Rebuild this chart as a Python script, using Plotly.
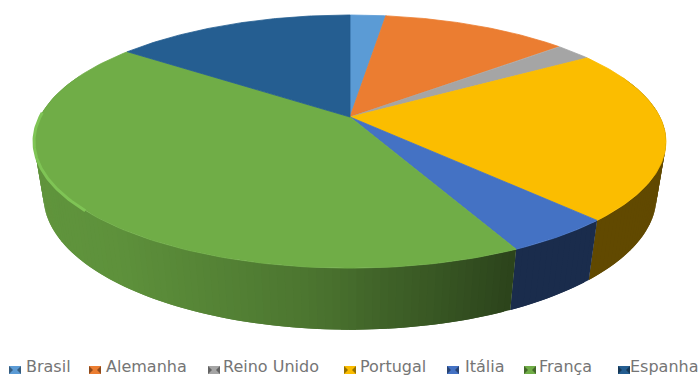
import numpy as np
import plotly.graph_objects as go

# Share of each country, in percent, clockwise from twelve o'clock
countries = ["Brasil", "Alemanha", "Reino Unido", "Portugal", "Itália", "França", "Espanha"]
shares = [2.2, 11.5, 2.3, 22.0, 4.7, 42.5, 14.8]
colors = ["#5B9BD5", "#EB7D31", "#A5A5A5", "#FBBD00", "#4472C4", "#70AD47", "#255E91"]

# Perspective model of the tilted disc, in pixels
CX, CY = 350.0, 117.0
RX, RY = 310.0, 121.8
TILT = 0.194
DEPTH = 56.0
FALLOFF = 0.03

# Horizontal position of each legend swatch and label
swatch_x = [9, 89, 208, 344, 447, 524, 618]
label_x = [27, 107, 224, 361, 466, 540, 631]
SWATCH_Y = 370
LABEL_Y = 366.5


def project(theta, lower=False):
    """Map a rim angle (radians, clockwise from the back) to screen x, y."""
    u, v = np.sin(theta), np.cos(theta)
    w = 1 + TILT * v + (FALLOFF if lower else 0)
    drop = DEPTH if lower else 0
    return CX + RX * u / w, CY - (RY * v - drop) / w


def wall_shade(x):
    """Brightness of the side wall, falling from left to right."""
    return np.interp(x, [35, 110, 300, 440, 515, 700], [0.86, 0.84, 0.68, 0.5, 0.39, 0.39])


def scaled(hex_color, factor):
    rgb = [int(hex_color[i:i + 2], 16) for i in (1, 3, 5)]
    return "rgb({},{},{})".format(*[min(255, int(c * factor)) for c in rgb])


def polygon(xs, ys, color, name, width=0.8):
    return go.Scatter(
        x=xs, y=ys, mode="lines", fill="toself", fillcolor=color, name=name,
        line=dict(color=color, width=width), hoverinfo="skip", showlegend=False,
    )


edges = np.concatenate([[0], np.cumsum(shares)]) / sum(shares) * 2 * np.pi
fig = go.Figure()

# Side wall: each shaded strip runs under its neighbour so no seams show
for name, color, start, stop in zip(countries, colors, edges[:-1], edges[1:]):
    steps = max(2, int((stop - start) / np.radians(1.2)))
    rim = np.linspace(start, stop, steps + 1)
    step = rim[1] - rim[0]
    for a, b in zip(rim[:-1], rim[1:]):
        if np.cos((a + b) / 2) > 0.35:
            continue
        far = min(b + step, stop) if np.sin(a) > 0 else b
        near = a if np.sin(a) > 0 else max(a - step, start)
        xa, ya = project(near)
        xb, yb = project(far)
        xc, yc = project(far, lower=True)
        xd, yd = project(near, lower=True)
        mid_x, _ = project((a + b) / 2)
        fig.add_trace(polygon([xa, xb, xc, xd, xa], [ya, yb, yc, yd, ya],
                              scaled(color, wall_shade(mid_x)), name, width=0))

# Top face of each slice
for name, color, start, stop in zip(countries, colors, edges[:-1], edges[1:]):
    rim = np.linspace(start, stop, 120)
    xs, ys = project(rim)
    fig.add_trace(polygon(np.r_[CX, xs, CX], np.r_[CY, ys, CY], color, name))

# Bright bevel along the lit front-left rim
bevel = np.linspace(np.radians(228), np.radians(272), 60)
bx, by = project(bevel)
fig.add_trace(go.Scatter(x=bx, y=by, mode="lines", line=dict(color="#7FC455", width=3),
                         hoverinfo="skip", showlegend=False))

# Legend keys and labels
for name, color, sx, lx in zip(countries, colors, swatch_x, label_x):
    fig.add_trace(polygon([sx, sx + 12, sx + 12, sx, sx],
                          [SWATCH_Y - 4, SWATCH_Y - 4, SWATCH_Y + 4, SWATCH_Y + 4, SWATCH_Y - 4],
                          color, name, width=0))
    fig.add_trace(polygon([sx, sx + 4, sx, sx, sx + 12, sx + 8, sx + 12, sx + 12],
                          [SWATCH_Y - 4, SWATCH_Y, SWATCH_Y + 4, SWATCH_Y - 4,
                           SWATCH_Y - 4, SWATCH_Y, SWATCH_Y + 4, SWATCH_Y - 4],
                          scaled(color, 0.6), name, width=0))
    fig.add_annotation(x=lx, y=LABEL_Y, text=name, showarrow=False, xanchor="left", yanchor="middle",
                       xshift=-3, font=dict(family="DejaVu Sans", size=16, color="#757575"))

fig.update_xaxes(range=[0, 700], visible=False, fixedrange=True)
fig.update_yaxes(range=[376, 0], visible=False, fixedrange=True)
fig.update_layout(width=700, height=376, margin=dict(l=0, r=0, t=0, b=0),
                  paper_bgcolor="white", plot_bgcolor="white", showlegend=False)
fig.write_html("out.html", config=dict(displayModeBar=False))
